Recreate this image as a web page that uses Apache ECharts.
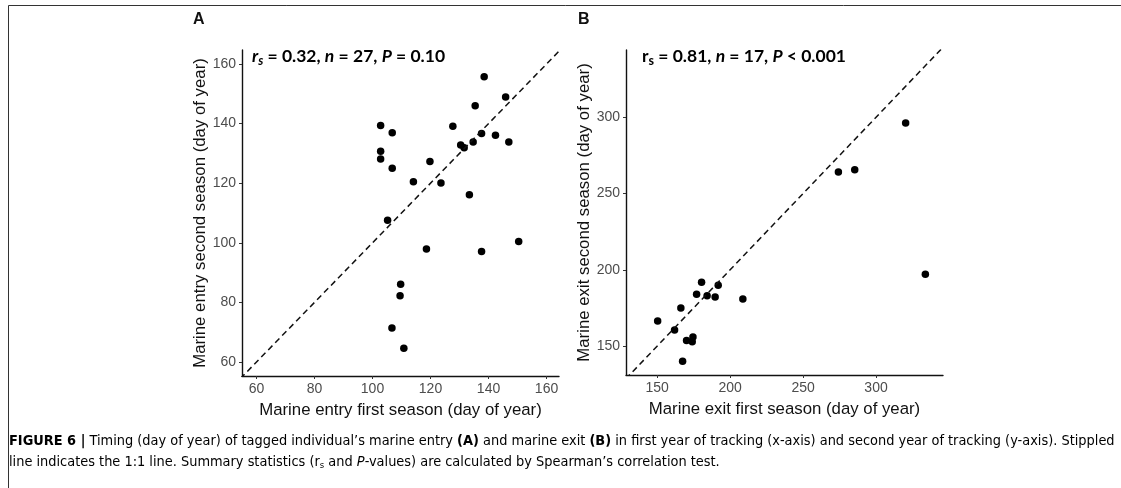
<!DOCTYPE html>
<html>
<head>
<meta charset="utf-8">
<script src="https://cdn.jsdelivr.net/npm/echarts@6/dist/echarts.min.js"></script>
<style>
  html, body { margin: 0; padding: 0; background: #fff; }
  #chart { width: 1121px; height: 488px; }
</style>
</head>
<body>
<div id="chart"></div>
<script>
// panel A: marine entry (day of year)
const entryFirst  = [102.8, 106.8, 102.8, 102.8, 106.8, 114.1, 119.8, 123.6, 105.2, 127.7, 130.4, 131.6, 133.4, 134.7, 135.4, 137.6, 145.9, 142.4, 147.0, 138.5, 150.4, 137.6, 118.6, 109.7, 109.5, 106.7, 110.8];
const entrySecond = [139.4, 136.9, 130.7, 128.1, 125.0, 120.5, 127.3, 120.1, 107.6, 139.1, 132.8, 131.9, 116.1, 133.8, 146.0, 136.7, 148.9, 136.1, 133.8, 155.7, 100.4, 97.1, 97.9, 86.1, 82.2, 71.4, 64.6];
const entryTicks  = [60, 80, 100, 120, 140, 160];
const entryStats  = ['0.32', '27', '= 0.10'];

// panel B: marine exit (day of year)
const exitFirst  = [150.3, 161.9, 166.2, 167.4, 170.1, 174.0, 174.5, 177.0, 180.4, 184.2, 189.7, 191.8, 208.7, 274.2, 285.4, 320.3, 333.8];
const exitSecond = [166.4, 160.5, 174.9, 140.0, 153.7, 152.8, 155.9, 183.9, 191.8, 183.0, 182.1, 189.8, 180.8, 264.1, 265.5, 296.3, 197.0];
const exitTicks  = [150, 200, 250, 300];
const exitStats  = ['0.81', '17', '< 0.001'];

// 1:1 reference line ends (clipped by the grid)
const oneToOneA = [40, 180];
const oneToOneB = [100, 380];

const tickColor = '#4d4d4d';
const labelFont = 'Liberation Sans, Arial, sans-serif';
const capFont = '"DejaVu Sans Condensed", sans-serif';

function axisOf(idx, min, max, ticks, name, gap) {
  return {
    type: 'value', gridIndex: idx, min: min, max: max,
    name: name, nameLocation: 'middle', nameGap: gap,
    nameTextStyle: { fontFamily: labelFont, fontSize: 16.8, color: '#111' },
    axisLine: { show: true, lineStyle: { color: '#111', width: 1.4 } },
    axisTick: { show: true, length: 3, customValues: ticks, lineStyle: { color: '#333' } },
    axisLabel: { customValues: ticks, margin: 6, color: tickColor, fontSize: 14, fontFamily: labelFont },
    splitLine: { show: false }
  };
}

const statRich = {
  i: { fontFamily: 'Lato', fontWeight: 'bold', fontStyle: 'italic', fontSize: 17.5, color: '#111' },
  n: { fontFamily: 'Lato', fontWeight: 'bold', fontSize: 17.5, color: '#111' },
  s: { fontFamily: 'Lato', fontWeight: 'bold', fontStyle: 'italic', fontSize: 12.5, color: '#111', padding: [9, 0, 0, 0] },
  su: { fontFamily: 'Lato', fontWeight: 'bold', fontSize: 12.5, color: '#111', padding: [9, 0, 0, 0] }
};

const capRich = {
  b: { fontFamily: capFont, fontWeight: 'bold', fontSize: 14.4, color: '#222' },
  t: { fontFamily: capFont, fontSize: 14.4, color: '#333' },
  i: { fontFamily: capFont, fontStyle: 'italic', fontSize: 14.4, color: '#333' },
  sub: { fontFamily: capFont, fontSize: 9.5, color: '#333', padding: [6, 0, 0, 0] }
};

const chart = echarts.init(document.getElementById('chart'));
chart.setOption({
  animation: false,
  grid: [
    { left: 242, right: 562, top: 50, bottom: 112 },
    { left: 626, right: 178, top: 50, bottom: 113 }
  ],
  xAxis: [
    axisOf(0, 55, 164.3, entryTicks, 'Marine entry first season (day of year)', 26),
    axisOf(1, 128.6, 345.9, exitTicks, 'Marine exit first season (day of year)', 26)
  ],
  yAxis: [
    axisOf(0, 55.3, 164.7, entryTicks, 'Marine entry second season (day of year)', 25),
    axisOf(1, 131, 344.1, exitTicks, 'Marine exit second season (day of year)', 31)
  ],
  series: [
    {
      type: 'line', xAxisIndex: 0, yAxisIndex: 0, symbol: 'none', clip: true, silent: true,
      data: oneToOneA.map(v => [v, v]),
      lineStyle: { color: '#111', width: 1.5, type: [6, 4] }
    },
    {
      type: 'scatter', xAxisIndex: 0, yAxisIndex: 0, symbolSize: 7.5,
      itemStyle: { color: '#000', opacity: 1 },
      data: entryFirst.map((x, i) => [x, entrySecond[i]])
    },
    {
      type: 'line', xAxisIndex: 1, yAxisIndex: 1, symbol: 'none', clip: true, silent: true,
      data: oneToOneB.map(v => [v, v]),
      lineStyle: { color: '#111', width: 1.5, type: [6, 4] }
    },
    {
      type: 'scatter', xAxisIndex: 1, yAxisIndex: 1, symbolSize: 7.5,
      itemStyle: { color: '#000', opacity: 1 },
      data: exitFirst.map((x, i) => [x, exitSecond[i]])
    }
  ],
  graphic: [
    // figure frame (cropped on the right and bottom)
    { type: 'rect', shape: { x: 8.5, y: 5.5, width: 1200, height: 600 }, style: { fill: 'none', stroke: '#333', lineWidth: 1 }, silent: true },
    { type: 'text', left: 193, top: 12, style: { text: 'A', font: 'bold 16px Liberation Sans, Arial, sans-serif', fill: '#111' } },
    { type: 'text', left: 578, top: 12, style: { text: 'B', font: 'bold 16px Liberation Sans, Arial, sans-serif', fill: '#111' } },
    {
      type: 'text', left: 252, top: 47,
      style: {
        text: '{i|r}{s|s}{n| = ' + entryStats[0] + ', }{i|n}{n| = ' + entryStats[1] + ', }{i|P}{n| ' + entryStats[2] + '}',
        rich: statRich
      }
    },
    {
      type: 'text', left: 642, top: 47,
      style: {
        text: '{n|r}{su|s}{n| = ' + exitStats[0] + ', }{i|n}{n| = ' + exitStats[1] + ', }{i|P}{n| ' + exitStats[2] + '}',
        rich: statRich
      }
    },
    {
      type: 'text', left: 9, top: 431,
      style: {
        text: '{b|FIGURE 6 |}{t| Timing (day of year) of tagged individual\u2019s marine entry }{b|(A)}{t| and marine exit }{b|(B)}{t| in first year of tracking (x-axis) and second year of tracking (y-axis). Stippled}\n' +
              '{t|line indicates the 1:1 line. Summary statistics (r}{sub|s}{t| and }{i|P}{t|-values) are calculated by Spearman\u2019s correlation test.}',
        rich: capRich,
        lineHeight: 21
      }
    }
  ]
});
</script>
</body>
</html>
